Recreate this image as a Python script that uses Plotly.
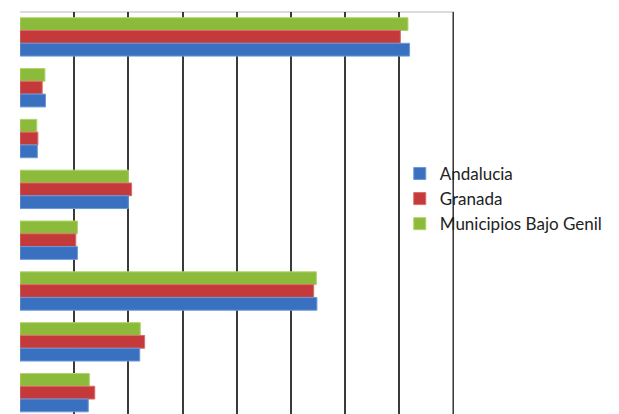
import plotly.graph_objects as go

categories = ["Grupo 1", "Grupo 2", "Grupo 3", "Grupo 4", "Grupo 5", "Grupo 6", "Grupo 7", "Grupo 8"]
series_names = ["Andalucia", "Granada", "Municipios Bajo Genil"]
andalucia = [71.9, 4.7, 3.2, 20.0, 10.6, 54.8, 22.1, 12.6]
granada = [70.2, 4.1, 3.3, 20.6, 10.3, 54.2, 23.0, 13.8]
municipios = [71.6, 4.6, 3.1, 20.0, 10.6, 54.7, 22.2, 12.8]
x_max = 80
colors = ["#3a70c0", "#c43a3a", "#8cbb3c"]
line_colors = ["#6a98d8", "#e06a6a", "#b0d46a"]

fig = go.Figure()
series = list(zip(series_names, [andalucia, granada, municipios], colors, line_colors))
# added in reverse so that Andalucia sits at the bottom of each group (reversed y axis)
for name, vals, c, lc in reversed(series):
    fig.add_trace(go.Bar(
        y=categories, x=vals, name=name, orientation="h",
        marker=dict(color=c, line=dict(color=lc, width=1)),
    ))

# the page body has an 8px margin, so the figure is sized to fit inside the window
fig.update_layout(
    width=611, height=406,
    barmode="group", bargap=0.245, bargroupgap=0,
    plot_bgcolor="white", paper_bgcolor="white",
    margin=dict(l=12, r=165, t=4, b=0, autoexpand=False),
    font=dict(family="Lato, Open Sans, sans-serif", size=17, color="#222222"),
    showlegend=True,
    legend=dict(
        x=0.875, y=0.535, xanchor="left", yanchor="middle",
        bgcolor="rgba(0,0,0,0)", traceorder="reversed",
        font=dict(size=17, color="#222222"),
        itemwidth=30, tracegroupgap=0,
    ),
    xaxis=dict(
        range=[0, x_max + 0.1], dtick=10, showgrid=True, gridcolor="#3a3a3a", gridwidth=2,
        showticklabels=False, zeroline=False, showline=False, ticks="",
    ),
    yaxis=dict(
        categoryorder="array", categoryarray=categories,
        range=[7.42, -0.49], showticklabels=False, showgrid=False,
        zeroline=False, showline=False, ticks="",
    ),
    shapes=[
        dict(type="line", xref="paper", yref="paper", x0=0, x1=1, y0=1, y1=1,
             line=dict(color="#d0d0d0", width=1.5), layer="below"),
        dict(type="line", xref="x", yref="paper", x0=x_max, x1=x_max, y0=0, y1=1,
             line=dict(color="#3a3a3a", width=2), layer="above"),
    ],
)

fig.write_html("out.html")
